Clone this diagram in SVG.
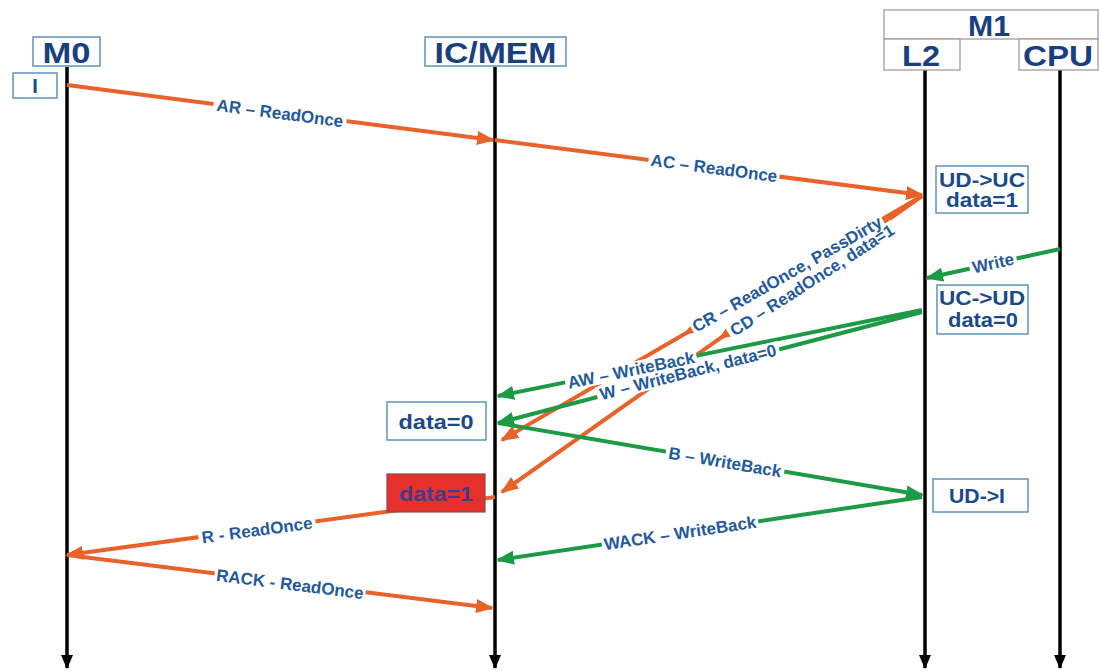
<svg xmlns="http://www.w3.org/2000/svg" width="1099" height="671" viewBox="0 0 1099 671">
<style>
.life{stroke:#000;stroke-width:3.5;fill:none;marker-end:url(#mk)}
.or{stroke:#e8622a;stroke-width:4;fill:none}
.gr{stroke:#1c9a45;stroke-width:4;fill:none}
.oe{marker-end:url(#mo)}
.om{marker-mid:url(#mo)}
.ge{marker-end:url(#mg)}
.lbl rect{fill:#fff}
.lbl text{font-family:"Liberation Sans",Arial,sans-serif;font-weight:bold;font-size:17px;fill:#1f5a9c;text-anchor:middle}
.hb{fill:#fff;stroke:#5f93bd;stroke-width:1.5}
.hm{fill:#fff;stroke:#a59a9a;stroke-width:1.3}
.ht{font-family:"Liberation Sans",Arial,sans-serif;font-weight:bold;font-size:29px;fill:#1a3f7e;text-anchor:middle}
.sb{fill:#fff;stroke:#5f93bd;stroke-width:1.5}
.st{font-family:"Liberation Sans",Arial,sans-serif;font-weight:bold;font-size:20px;fill:#1a4a8a;text-anchor:middle}
</style>
<defs>
<marker id="mo" markerUnits="userSpaceOnUse" markerWidth="18" markerHeight="14" viewBox="0 0 18 14" refX="16" refY="7" orient="auto"><path d="M0,0 L18,7 L0,14 z" fill="#e8622a"/></marker>
<marker id="mg" markerUnits="userSpaceOnUse" markerWidth="18" markerHeight="14" viewBox="0 0 18 14" refX="16" refY="7" orient="auto"><path d="M0,0 L18,7 L0,14 z" fill="#1c9a45"/></marker>
<marker id="mk" markerUnits="userSpaceOnUse" markerWidth="14" markerHeight="12" viewBox="0 0 14 12" refX="13" refY="6" orient="auto"><path d="M0,0 L14,6 L0,12 z" fill="#000"/></marker>
</defs>

<g id="node-M0">
<line class="life" x1="67" y1="67" x2="67" y2="668"/>
<rect class="hb" x="33" y="37" width="67" height="29"/>
<text class="ht" x="66.5" y="63" textLength="48" lengthAdjust="spacingAndGlyphs">M0</text>
</g>
<g id="node-ICMEM">
<line class="life" x1="495" y1="67" x2="495" y2="668"/>
<rect class="hb" x="425" y="37" width="141" height="29"/>
<text class="ht" x="495.5" y="63" textLength="122" lengthAdjust="spacingAndGlyphs">IC/MEM</text>
</g>
<g id="node-M1">
<rect class="hm" x="884" y="10" width="214" height="29"/>
<text class="ht" x="989" y="36" textLength="42" lengthAdjust="spacingAndGlyphs">M1</text>
</g>
<g id="node-L2">
<line class="life" x1="925" y1="70" x2="925" y2="668"/>
<rect class="hm" x="884" y="39" width="76" height="31"/>
<text class="ht" x="921" y="66" textLength="38" lengthAdjust="spacingAndGlyphs">L2</text>
</g>
<g id="node-CPU">
<line class="life" x1="1060" y1="70" x2="1060" y2="668"/>
<rect class="hm" x="1019" y="39" width="79" height="31"/>
<text class="ht" x="1058" y="66" textLength="70" lengthAdjust="spacingAndGlyphs">CPU</text>
</g>

<g id="connectors">
<line class="or oe" x1="67" y1="85" x2="493" y2="140"/>
<line class="or oe" x1="495" y1="140" x2="922" y2="195"/>
<polyline class="or om oe" points="922,196 685,333.7 502,440"/>
<polyline class="or om oe" points="922,196 720,338.4 502,492"/>
<line class="gr ge" x1="1060" y1="249" x2="927" y2="278"/>
<line class="gr ge" x1="922" y1="310" x2="498" y2="396"/>
<line class="gr ge" x1="922" y1="312" x2="498" y2="423"/>
<line class="gr ge" x1="498" y1="423" x2="922" y2="495"/>
<line class="gr ge" x1="922" y1="497" x2="498" y2="560"/>
<line class="or oe" x1="495" y1="497" x2="67" y2="555"/>
<line class="or oe" x1="67" y1="555" x2="492" y2="608"/>

<g class="lbl" transform="translate(280,113) rotate(7.4)"><rect x="-67" y="-9" width="134" height="18"/><text y="6">AR – ReadOnce</text></g>
<g class="lbl" transform="translate(714,168) rotate(7.4)"><rect x="-66" y="-9" width="132" height="18"/><text y="6">AC – ReadOnce</text></g>
<g class="lbl" transform="translate(812,280) rotate(-32.8)"><rect x="-99" y="-8" width="198" height="16"/><text y="6">CD – ReadOnce, data=1</text></g>
<g class="lbl" transform="translate(787,274) rotate(-29.8)"><rect x="-110" y="-8" width="220" height="16"/><text y="6">CR – ReadOnce, PassDirty</text></g>
<g class="lbl" transform="translate(993,263) rotate(-12.5)"><rect x="-24" y="-8" width="48" height="16"/><text y="6">Write</text></g>
<g class="lbl" transform="translate(688,372) rotate(-14.3)"><rect x="-94" y="-8" width="188" height="16"/><text y="6">W – WriteBack, data=0</text></g>
<g class="lbl" transform="translate(631,370) rotate(-11.6)"><rect x="-67" y="-8" width="134" height="16"/><text y="6">AW – WriteBack</text></g>
<g class="lbl" transform="translate(725,462) rotate(9.6)"><rect x="-60" y="-9" width="120" height="18"/><text y="6">B – WriteBack</text></g>
<g class="lbl" transform="translate(680,533) rotate(-8.5)"><rect x="-79" y="-9" width="158" height="18"/><text y="6">WACK – WriteBack</text></g>
<g class="lbl" transform="translate(257,530) rotate(-7.7)"><rect x="-59" y="-9" width="118" height="18"/><text y="6">R - ReadOnce</text></g>
<g class="lbl" transform="translate(290,584) rotate(7.1)"><rect x="-76" y="-9" width="152" height="18"/><text y="6">RACK - ReadOnce</text></g>
</g>

<g id="state-I">
<rect class="sb" x="13" y="73" width="44" height="25"/>
<text class="st" x="35" y="93">I</text>
</g>
<g id="state-UDUC">
<rect class="sb" x="936" y="166" width="92" height="47"/>
<text class="st" x="982" y="187" textLength="86" lengthAdjust="spacingAndGlyphs">UD-&gt;UC</text>
<text class="st" x="982" y="207" textLength="72" lengthAdjust="spacingAndGlyphs">data=1</text>
</g>
<g id="state-UCUD">
<rect class="sb" x="937" y="285" width="91" height="49"/>
<text class="st" x="982" y="305" textLength="86" lengthAdjust="spacingAndGlyphs">UC-&gt;UD</text>
<text class="st" x="983" y="327" textLength="70" lengthAdjust="spacingAndGlyphs">data=0</text>
</g>
<g id="state-UDI">
<rect class="sb" x="933" y="479" width="95" height="33"/>
<text class="st" x="977" y="503" textLength="56" lengthAdjust="spacingAndGlyphs">UD-&gt;I</text>
</g>
<g id="state-data0">
<rect class="sb" x="387" y="402" width="99" height="38"/>
<text class="st" x="436" y="429" font-size="21" textLength="75" lengthAdjust="spacingAndGlyphs">data=0</text>
</g>
<g id="state-data1">
<rect x="387" y="474" width="98" height="38" fill="#e5302c" stroke="#8a4a4a" stroke-width="1.2"/>
<text class="st" x="436" y="501" font-size="21" fill="#3b3f8f" style="fill:#3b3f8f" textLength="74" lengthAdjust="spacingAndGlyphs">data=1</text>
</g>
</svg>
